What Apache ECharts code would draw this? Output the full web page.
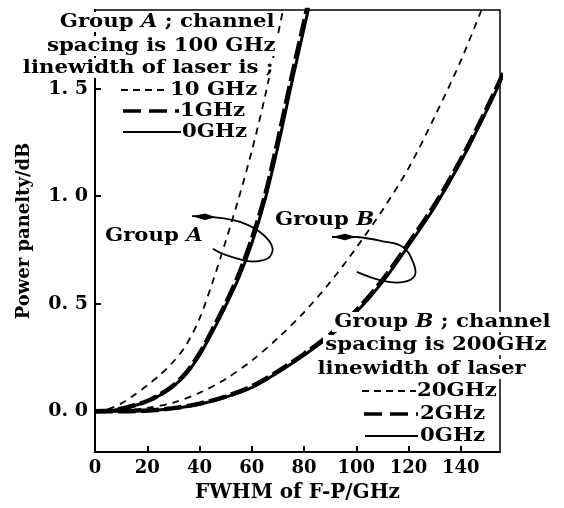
<!DOCTYPE html>
<html><head><meta charset="utf-8">
<script src="https://cdn.jsdelivr.net/npm/echarts@6/dist/echarts.min.js"></script>
<style>html,body{margin:0;padding:0;background:#fff}#c{width:564px;height:508px}</style>
</head><body><div id="c"></div>
<script>
// ---- data ----
const xTicks = [0, 20, 40, 60, 80, 100, 120, 140];
const yTicks = [0, 0.5, 1.0, 1.5];

const xA0  = [0, 5, 10, 15, 20, 25, 30, 35, 40, 45, 50, 55, 60, 65, 70, 75, 80, 85];
const yA0  = [0, 0.002, 0.01, 0.025, 0.045, 0.075, 0.115, 0.175, 0.26, 0.37, 0.49, 0.62, 0.78, 0.98, 1.23, 1.51, 1.78, 2.05];
const xA1  = [0, 5, 10, 15, 20, 25, 30, 35, 40, 45, 50, 55, 60, 65, 70, 75, 80, 85];
const yA1  = [0, 0.002, 0.011, 0.027, 0.047, 0.078, 0.12, 0.18, 0.268, 0.38, 0.5, 0.635, 0.8, 1.0, 1.26, 1.54, 1.81, 2.08];
const xA10 = [0, 5, 10, 15, 20, 25, 30, 35, 40, 45, 50, 55, 60, 65, 70, 75];
const yA10 = [0, 0.01, 0.035, 0.075, 0.12, 0.17, 0.23, 0.31, 0.43, 0.6, 0.79, 0.99, 1.21, 1.46, 1.75, 2.05];

const xB0  = [0, 10, 20, 30, 40, 50, 60, 70, 80, 90, 100, 110, 120, 130, 140, 150, 160];
const yB0  = [0, 0, 0.002, 0.012, 0.032, 0.065, 0.11, 0.18, 0.26, 0.35, 0.46, 0.6, 0.77, 0.95, 1.16, 1.4, 1.66];
const xB2  = [0, 10, 20, 30, 40, 50, 60, 70, 80, 90, 100, 110, 120, 130, 140, 150, 160];
const yB2  = [0, 0, 0.003, 0.014, 0.035, 0.068, 0.115, 0.185, 0.266, 0.357, 0.468, 0.61, 0.78, 0.96, 1.17, 1.41, 1.67];
const xB20 = [0, 10, 20, 30, 40, 50, 60, 70, 80, 90, 100, 110, 120, 130, 140, 150];
const yB20 = [0, 0.003, 0.015, 0.04, 0.085, 0.15, 0.235, 0.34, 0.46, 0.6, 0.76, 0.935, 1.13, 1.37, 1.63, 1.93];

// annotation loops (data coordinates)
const loopAx = [37.1, 45.1, 55.5, 63.1, 67.7, 66.9, 63.1, 58.1, 49.0, 45.1];
const loopAy = [0.907, 0.903, 0.88, 0.833, 0.769, 0.718, 0.699, 0.699, 0.731, 0.755];
const loopBx = [90.7, 100.2, 110.2, 117.8, 121.7, 122.4, 117.8, 110.2, 100.2];
const loopBy = [0.81, 0.81, 0.79, 0.764, 0.694, 0.63, 0.60, 0.606, 0.648];

const zip = (xs, ys) => xs.map((x, i) => [x, ys[i]]);
const FONT = 'DejaVu Serif';
const FS = 18;
const SX = 1.18;

const chart = echarts.init(document.getElementById('c'), null, {renderer: 'canvas'});

function line(name, xs, ys, width, type) {
  return {
    name, type: 'line', data: zip(xs, ys), smooth: 0.3, symbol: 'none', clip: true,
    lineStyle: {color: '#000', width, type}, z: 3
  };
}

const option = {
  animation: false,
  backgroundColor: '#fff',
  grid: {left: 95, right: 64, top: 10, bottom: 54, show: true, borderColor: '#000', borderWidth: 1.5, backgroundColor: 'transparent'},
  xAxis: {
    type: 'value', min: 0, max: 155,
    axisLine: {show: true, onZero: false, lineStyle: {color: '#000', width: 2}},
    axisTick: {show: true, inside: true, length: 6, customValues: xTicks, lineStyle: {color: '#000', width: 2}},
    axisLabel: {customValues: xTicks, color: '#000', fontFamily: FONT, fontWeight: 'bold', fontSize: FS, margin: 7},
    splitLine: {show: false},
    name: 'FWHM of F-P/GHz', nameLocation: 'middle', nameGap: 31,
    nameTextStyle: {color: '#000', fontFamily: FONT, fontWeight: 'bold', fontSize: 20}
  },
  yAxis: {
    type: 'value', min: -0.19, max: 1.866,
    axisLine: {show: true, onZero: false, lineStyle: {color: '#000', width: 2}},
    axisTick: {show: true, inside: true, length: 6, customValues: yTicks, lineStyle: {color: '#000', width: 2}},
    axisLabel: {customValues: yTicks, color: '#000', fontFamily: FONT, fontWeight: 'bold', fontSize: FS + 1, margin: 7,
      formatter: v => v.toFixed(1).replace('.', '. ')},
    splitLine: {show: false},
    name: 'Power panelty/dB', nameLocation: 'middle', nameGap: 62, nameRotate: 90,
    nameTextStyle: {color: '#000', fontFamily: FONT, fontWeight: 'bold', fontSize: FS}
  },
  series: [
    line('A 10GHz', xA10, yA10, 1.8, [7, 6]),
    line('A 0GHz', xA0, yA0, 3, 'solid'),
    line('A 1GHz', xA1, yA1, 4.5, [18, 5]),
    line('B 20GHz', xB20, yB20, 1.8, [7, 6]),
    line('B 0GHz', xB0, yB0, 3, 'solid'),
    line('B 2GHz', xB2, yB2, 4.5, [18, 5])
  ]
};
chart.setOption(option);

// ---- annotations ----
const rich = {
  n: {fontFamily: FONT, fontWeight: 'bold', fontSize: FS, color: '#000'},
  i: {fontFamily: FONT, fontWeight: 'bold', fontStyle: 'italic', fontSize: FS, color: '#000'}
};
function txt(text, x, y, align, bg) {
  return {
    type: 'text', z: 10, x, y, scaleX: SX, scaleY: 1,
    style: {
      text, x: 0, y: 0, align: align || 'left', verticalAlign: 'middle',
      font: 'bold ' + FS + 'px "' + FONT + '"', fill: '#000',
      rich, backgroundColor: bg ? '#fff' : null, padding: bg ? [1, 2, 1, 2] : 0
    }
  };
}
function seg(x1, x2, y, width, dash) {
  return {type: 'line', z: 11, shape: {x1, y1: y, x2, y2: y},
    style: {stroke: '#000', lineWidth: width, lineDash: dash || null}};
}
const toPx = (xs, ys) => xs.map((x, i) => chart.convertToPixel({gridIndex: 0}, [x, ys[i]]));
const pA = toPx(loopAx, loopAy);
const pB = toPx(loopBx, loopBy);

function head(p0, p1) {
  // tapered arrow head, tip at p0, pointing away from p1
  const dx = p0[0] - p1[0], dy = p0[1] - p1[1];
  const L = Math.hypot(dx, dy), ux = dx / L, uy = dy / L;
  const tip = [p0[0], p0[1]];
  const wide = [p0[0] - ux * 13, p0[1] - uy * 13];
  const back = [p0[0] - ux * 24, p0[1] - uy * 24];
  return {type: 'polygon', z: 11, shape: {points: [tip, [wide[0] - uy * 3.2, wide[1] + ux * 3.2], back, [wide[0] + uy * 3.2, wide[1] - ux * 3.2]]},
    style: {fill: '#000'}};
}

const graphic = [
  // Group A block
  txt('{n|Group }{i|A}{n| ; channel}', 277, 22, 'right', true),
  txt('spacing is 100 GHz', 278, 46, 'right', true),
  txt('linewidth of laser is ;', 276, 68, 'right', true),
  seg(121, 169, 90, 1.8, [7, 5]),
  txt('10 GHz', 170, 90, 'left', false),
  seg(123, 179, 111, 3.5, [18, 8]),
  txt('1GHz', 180, 111, 'left', false),
  seg(123, 181, 132, 2.2, null),
  txt('0GHz', 182, 132, 'left', false),
  // Group B block
  txt('{n|Group }{i|B}{n| ; channel}', 553, 322, 'right', true),
  txt('spacing is 200GHz', 549, 345, 'right', true),
  txt('linewidth of laser', 528, 369, 'right', true),
  {type: 'rect', z: 9, shape: {x: 360, y: 380, width: 137, height: 66}, style: {fill: '#fff'}},
  seg(362, 416, 391, 1.8, [7, 5]),
  txt('20GHz', 417, 391, 'left', false),
  seg(364, 418, 414, 3.5, [18, 8]),
  txt('2GHz', 420, 414, 'left', false),
  seg(365, 418, 436, 2.2, null),
  txt('0GHz', 420, 436, 'left', false),
  // Group labels
  txt('{n|Group }{i|A}', 105, 236, 'left', false),
  txt('{n|Group }{i|B}', 275, 220, 'left', false),
  // loops
  {type: 'polyline', z: 11, shape: {points: pA, smooth: 0.4}, style: {stroke: '#000', lineWidth: 1.8, fill: null}},
  head(pA[0], pA[1]),
  {type: 'polyline', z: 11, shape: {points: pB, smooth: 0.4}, style: {stroke: '#000', lineWidth: 1.8, fill: null}},
  head(pB[0], pB[1])
];
chart.setOption({graphic});
</script></body></html>
